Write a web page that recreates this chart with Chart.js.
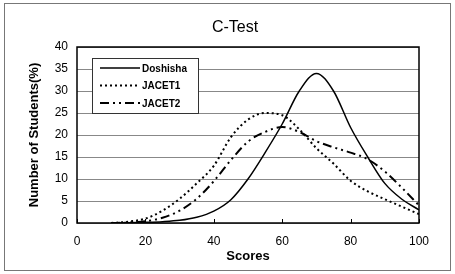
<!DOCTYPE html>
<html>
<head>
<meta charset="utf-8">
<script src="https://cdn.jsdelivr.net/npm/chart.js@4.4.0/dist/chart.umd.min.js"></script>
<style>
  html, body { margin: 0; padding: 0; background: #fff; }
  #frame {
    position: absolute; left: 4px; top: 3px; width: 445px; height: 266px;
    border: 1px solid #777;
  }
  #wrap { position: absolute; left: 0; top: 0; width: 455px; height: 274px; }
</style>
</head>
<body>
<div id="frame"></div>
<div id="wrap"><canvas id="chart" width="455" height="274"></canvas></div>
<script>
// scores on the x axis, same for every series
const scores = [10, 15, 20, 25, 30, 35, 40, 45, 50, 55, 60, 65, 70, 75, 80, 85, 90, 95, 100];

// percentage of students per score
const doshisha = [0, 0.05, 0.15, 0.3, 0.6, 1.3, 2.7, 5.3, 10, 16, 22.5, 30, 34, 30, 21.7, 15, 9, 5.4, 3];
const jacet1   = [0, 0.3, 1.0, 2.8, 5.5, 9, 13, 19.5, 23.5, 25, 24.5, 21.3, 17, 13.5, 9.6, 7.2, 5.4, 3.7, 2];
const jacet2   = [0, 0.1, 0.4, 1.2, 2.8, 5.5, 9.5, 14.3, 18.5, 20.7, 21.8, 20.7, 18.6, 17.2, 16, 14.5, 11.7, 8, 4];

const seriesNames = ['Doshisha', 'JACET1', 'JACET2'];
const xTicks = [0, 20, 40, 60, 80, 100];
const yTicks = [0, 5, 10, 15, 20, 25, 30, 35, 40];
const chartTitle = 'C-Test';

const FONT = '"Liberation Sans", Arial, sans-serif';

function toPoints(values) {
    return values.map((v, i) => ({ x: scores[i], y: v }));
}

// title sits a bit right of the canvas centre in the original
const topTitle = {
    id: 'topTitle',
    afterDraw(chart) {
        const ctx = chart.ctx;
        ctx.save();
        ctx.fillStyle = '#000';
        ctx.font = '16px ' + FONT;
        ctx.textAlign = 'center';
        ctx.textBaseline = 'middle';
        ctx.fillText(chartTitle, 235, 28);
        ctx.restore();
    }
};

// legend box drawn inside the plot area, like the original
const boxLegend = {
    id: 'boxLegend',
    afterDraw(chart) {
        const ctx = chart.ctx;
        const area = chart.chartArea;
        const x0 = area.left + 15, y0 = area.top + 11;
        const w = 106, h = 55, rowH = 17.5;
        ctx.save();
        ctx.fillStyle = '#fff';
        ctx.fillRect(x0, y0, w, h);
        ctx.strokeStyle = '#333';
        ctx.lineWidth = 1;
        ctx.strokeRect(x0 + 0.5, y0 + 0.5, w, h);
        chart.data.datasets.forEach((ds, i) => {
            const y = y0 + 10 + i * rowH;
            ctx.beginPath();
            ctx.setLineDash(ds.borderDash || []);
            ctx.lineWidth = ds.borderWidth;
            ctx.strokeStyle = '#000';
            ctx.moveTo(x0 + 8, y);
            ctx.lineTo(x0 + 48, y);
            ctx.stroke();
            ctx.setLineDash([]);
            ctx.fillStyle = '#000';
            ctx.font = 'bold 10px ' + FONT;
            ctx.textBaseline = 'middle';
            ctx.fillText(ds.label, x0 + 50, y + 1);
        });
        ctx.restore();
    }
};

// black border round the plot area, with short inward x tick marks
const plotBorder = {
    id: 'plotBorder',
    afterDatasetsDraw(chart) {
        const a = chart.chartArea;
        const ctx = chart.ctx;
        const xs = chart.scales.x;
        ctx.save();
        ctx.strokeStyle = '#000';
        ctx.lineWidth = 1.5;
        ctx.strokeRect(a.left, a.top, a.right - a.left, a.bottom - a.top);
        ctx.lineWidth = 1;
        ctx.beginPath();
        xTicks.forEach(v => {
            const px = Math.round(xs.getPixelForValue(v)) + 0.5;
            ctx.moveTo(px, a.bottom);
            ctx.lineTo(px, a.bottom - 4);
        });
        ctx.stroke();
        ctx.restore();
    }
};

new Chart(document.getElementById('chart'), {
    type: 'line',
    data: {
        datasets: [
            { label: seriesNames[0], data: toPoints(doshisha), borderColor: '#000', borderWidth: 1.5, borderDash: [] },
            { label: seriesNames[1], data: toPoints(jacet1), borderColor: '#000', borderWidth: 2, borderDash: [2, 3] },
            { label: seriesNames[2], data: toPoints(jacet2), borderColor: '#000', borderWidth: 2, borderDash: [9, 4, 2, 4, 2, 4] }
        ]
    },
    options: {
        responsive: false,
        animation: false,
        layout: { padding: { left: 22, right: 36, top: 47, bottom: 0 } },
        elements: {
            point: { radius: 0 },
            line: { tension: 0.4, cubicInterpolationMode: 'monotone', fill: false }
        },
        plugins: {
            legend: { display: false },
            tooltip: { enabled: false },
            title: { display: false }
        },
        scales: {
            x: {
                type: 'linear',
                min: 0, max: 100,
                afterBuildTicks: s => { s.ticks = xTicks.map(v => ({ value: v })); },
                afterFit: s => { s.height = 51; },
                grid: { display: false },
                border: { display: false },
                ticks: { color: '#000', font: { family: FONT, size: 12 }, padding: 3, maxRotation: 0 },
                title: { display: true, text: 'Scores', color: '#000', font: { family: FONT, size: 13, weight: 'bold' }, padding: { top: 0, bottom: 10 } }
            },
            y: {
                min: 0, max: 40,
                afterBuildTicks: s => { s.ticks = yTicks.map(v => ({ value: v })); },
                afterFit: s => { s.width = 55; },
                grid: { color: '#888', lineWidth: 1, drawTicks: false },
                border: { display: false },
                ticks: { color: '#000', font: { family: FONT, size: 12 }, padding: 9 },
                title: { display: true, text: 'Number of Students(%)', color: '#000', font: { family: FONT, size: 13, weight: 'bold' }, padding: { top: 5, bottom: 4 } }
            }
        }
    },
    plugins: [boxLegend, plotBorder, topTitle]
});
</script>
</body>
</html>
